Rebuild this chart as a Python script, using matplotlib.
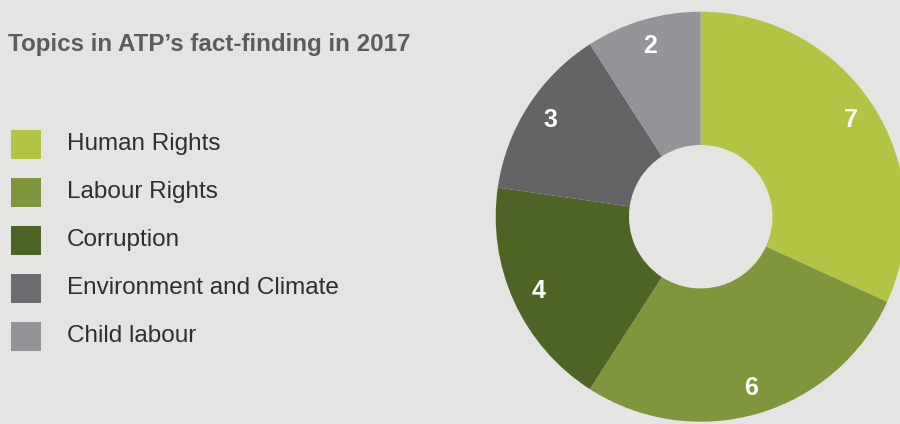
import matplotlib
matplotlib.use("Agg")
import matplotlib.pyplot as plt
from matplotlib.patches import Rectangle

categories = ["Human Rights", "Labour Rights", "Corruption", "Environment and Climate", "Child labour"]
values = [7, 6, 4, 3, 2]
colors = ["#b3c444", "#80963d", "#4e6425", "#646466", "#939497"]
legend_colors = ["#b3c444", "#80963d", "#4e6425", "#6b6c6f", "#939497"]
title = "Topics in ATP\u2019s fact-finding in 2017"

BG = "#e4e5e3"
W, H = 900, 424
fig = plt.figure(figsize=(W / 100, H / 100), dpi=100, facecolor=BG)

# donut
cx, cy, R = 700.7, 216.7, 205
ax = fig.add_axes([(cx - R) / W, (H - cy - R) / H, 2 * R / W, 2 * R / H])
ax.set_facecolor(BG)
wedges, texts, autotexts = ax.pie(
    values, colors=colors, startangle=90, counterclock=False,
    radius=1.0, wedgeprops=dict(width=0.65, linewidth=0),
    autopct=lambda p: f"{round(p * sum(values) / 100):d}", pctdistance=0.87,
)
for t in autotexts:
    t.set_color("white")
    t.set_fontsize(18)
    t.set_fontweight("bold")
    t.set_fontfamily("Liberation Sans")
ax.set_xlim(-1, 1)
ax.set_ylim(-1, 1)
ax.set_aspect("equal")
ax.axis("off")

# title
fig.text(8 / W, 1 - 45 / H, title, ha="left", va="center", fontsize=17.4,
         fontweight="bold", color="#5b5d5b", family="Liberation Sans")

# legend
for i, (lab, col) in enumerate(zip(categories, legend_colors)):
    yc = 144.3 + 48 * i
    fig.patches.append(Rectangle((11 / W, 1 - (yc + 14.5) / H), 30 / W, 29 / H,
                                 transform=fig.transFigure, facecolor=col,
                                 edgecolor="none"))
    fig.text(67 / W, 1 - yc / H, lab, ha="left", va="center", fontsize=17.5,
             color="#2e2e2e", family="Liberation Sans")

fig.savefig("out.png", dpi=100, facecolor=BG)
